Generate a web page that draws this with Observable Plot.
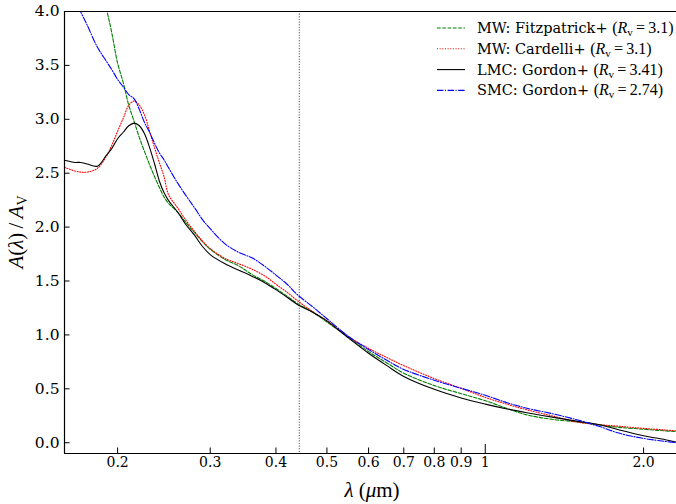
<!DOCTYPE html>
<html><head><meta charset="utf-8">
<script src="https://cdn.jsdelivr.net/npm/d3@7"></script>
<script src="https://cdn.jsdelivr.net/npm/@observablehq/plot@0.6"></script>
<style>body{margin:0;background:#fff}</style>
</head><body><div id="chart"></div>
<script>
// wavelength grid (µm)
const wavelength = [0.1585, 0.166, 0.17, 0.175, 0.183, 0.19, 0.195, 0.2, 0.205, 0.21, 0.215, 0.22, 0.225, 0.23, 0.235, 0.24, 0.245, 0.25, 0.26, 0.27, 0.28, 0.29, 0.30, 0.32, 0.34, 0.36, 0.38, 0.40, 0.42, 0.44, 0.47, 0.50, 0.55, 0.60, 0.65, 0.70, 0.80, 0.90, 1.0, 1.1, 1.2, 1.35, 1.5, 1.65, 1.8, 2.0, 2.2, 2.31];
// A(λ)/A_V for each curve
const mwFitzpatrick = [null, null, null, null, 4.42, 4.05, 3.80, 3.52, 3.34, 3.13, 2.98, 2.83, 2.70, 2.58, 2.47, 2.37, 2.28, 2.22, 2.14, 2.04, 1.95, 1.865, 1.795, 1.70, 1.64, 1.56, 1.50, 1.43, 1.36, 1.29, 1.21, 1.12, 0.975, 0.845, 0.74, 0.645, 0.53, 0.455, 0.39, 0.318, 0.258, 0.215, 0.192, 0.165, 0.142, 0.125, 0.11, 0.103];
const mwCardelli = [2.555, 2.52, 2.51, 2.51, 2.545, 2.65, 2.76, 2.89, 3.01, 3.13, 3.17, 3.13, 3.04, 2.89, 2.74, 2.60, 2.47, 2.30, 2.18, 2.06, 1.96, 1.87, 1.80, 1.71, 1.66, 1.61, 1.55, 1.47, 1.395, 1.315, 1.215, 1.13, 0.98, 0.875, 0.79, 0.715, 0.595, 0.505, 0.42, 0.357, 0.305, 0.245, 0.19, 0.168, 0.152, 0.133, 0.118, 0.11];
const lmcGordon = [2.62, 2.60, 2.60, 2.585, 2.565, 2.66, 2.73, 2.82, 2.88, 2.94, 2.965, 2.94, 2.865, 2.74, 2.59, 2.43, 2.32, 2.246, 2.14, 2.02, 1.925, 1.82, 1.745, 1.66, 1.60, 1.545, 1.487, 1.42, 1.35, 1.28, 1.21, 1.13, 0.97, 0.83, 0.715, 0.615, 0.495, 0.415, 0.358, 0.313, 0.278, 0.235, 0.198, 0.167, 0.118, 0.065, 0.028, 0.005];
const smcGordon = [4.30, 4.10, 4.0, 3.875, 3.67, 3.545, 3.46, 3.37, 3.30, 3.23, 3.19, 3.09, 2.97, 2.88, 2.78, 2.69, 2.625, 2.55, 2.41, 2.29, 2.18, 2.07, 1.985, 1.845, 1.765, 1.715, 1.64, 1.555, 1.47, 1.37, 1.26, 1.15, 0.985, 0.865, 0.765, 0.68, 0.58, 0.505, 0.44, 0.371, 0.32, 0.266, 0.21, 0.15, 0.087, 0.04, 0.012, 0.0];

const seriesNames = ["MW: Fitzpatrick+", "MW: Cardelli+", "LMC: Gordon+", "SMC: Gordon+"];
const seriesRv = ["3.1", "3.1", "3.41", "2.74"];
const seriesValues = [mwFitzpatrick, mwCardelli, lmcGordon, smcGordon];
const seriesColors = ["#008000", "#ff0000", "#000000", "#0000ff"];
const seriesDash = ["3.7,1.6", "1,1.65", null, "6.4,1.6,1,1.6"];

const referenceWavelength = [0.443];
const xTickValues = [0.2, 0.3, 0.4, 0.5, 0.6, 0.7, 0.8, 0.9, 1, 2];
const xTickLabels = ["0.2", "0.3", "0.4", "0.5", "0.6", "0.7", "0.8", "0.9", "1", "2.0"];
const xMajorTicks = [1];
const xMinorTicks = [0.2, 0.3, 0.4, 0.5, 0.6, 0.7, 0.8, 0.9, 2];
const yTickValues = [0, 0.5, 1, 1.5, 2, 2.5, 3, 3.5, 4];
const xDomain = [0.1585, 2.31];
const yDomain = [-0.1, 4.0];

const W = 676, H = 504, mL = 64, mR = 0, mT = 11, mB = 51;
const innerW = W - mL - mR, innerH = H - mT - mB;

const lines = seriesValues.map((vals, i) => Plot.line(
  wavelength.map((w, j) => ({w, a: vals[j]})).filter(d => d.a != null),
  {x: "w", y: "a", stroke: seriesColors[i], strokeWidth: 1.1, strokeDasharray: seriesDash[i], curve: "catmull-rom", clip: true}
));

const svg = Plot.plot({
  width: W, height: H,
  marginLeft: mL, marginRight: mR, marginTop: mT, marginBottom: mB,
  style: {fontFamily: "DejaVu Serif", fontSize: "14px", color: "#000", background: "#fff"},
  x: {type: "log", domain: xDomain},
  y: {domain: yDomain},
  marks: [
    Plot.ruleX(referenceWavelength, {x: d => d, stroke: "#000", strokeWidth: 0.8, strokeDasharray: "1,1.65"}),
    ...lines,
    Plot.tickX(xMinorTicks, {x: d => d, stroke: "#000", strokeWidth: 1, insetTop: innerH - 5.5}),
    Plot.tickX(xMajorTicks, {x: d => d, stroke: "#000", strokeWidth: 1, insetTop: innerH - 9}),
    Plot.tickY(yTickValues, {y: d => d, stroke: "#000", strokeWidth: 1, insetRight: innerW - 5.5}),
    Plot.axisX({ticks: xTickValues, tickFormat: d => xTickLabels[xTickValues.indexOf(d)], tickSize: 0, tickPadding: 4, label: null, fontSize: 14}),
    Plot.axisY({ticks: yTickValues, tickFormat: d => d.toFixed(1), tickSize: 0, tickPadding: 5, label: null, fontSize: 15.5}),
    Plot.ruleX([xDomain[0]], {x: d => d, stroke: "#000", strokeWidth: 1.2}),
    Plot.ruleY([yDomain[0], yDomain[1]], {y: d => d, stroke: "#000", strokeWidth: 1.2})
  ]
});
document.getElementById("chart").appendChild(svg);

const s = d3.select(svg);
const mathFont = "Liberation Serif";
// legend
const lg = s.append("g");
seriesNames.forEach((name, i) => {
  const y = 28 + i * 20.8;
  lg.append("line").attr("x1", 437).attr("x2", 465).attr("y1", y).attr("y2", y)
    .attr("stroke", seriesColors[i]).attr("stroke-width", 1.1)
    .attr("stroke-dasharray", seriesDash[i]);
  const t = lg.append("text").attr("x", 477).attr("y", y).attr("dy", "0.35em")
    .attr("text-anchor", "start")
    .attr("font-family", "DejaVu Serif").attr("font-size", 14.5).attr("fill", "#000");
  t.append("tspan").text(name + " ");
  t.append("tspan").attr("font-family", mathFont).attr("font-size", 16).text("(");
  t.append("tspan").attr("font-family", mathFont).attr("font-style", "italic").attr("font-size", 16).text("R");
  t.append("tspan").attr("font-family", mathFont).attr("font-size", 11).attr("dy", 3).text("v");
  t.append("tspan").attr("font-family", mathFont).attr("font-size", 16).attr("dy", -3).text("\u2009=\u2009" + seriesRv[i] + ")");
});
// x label
const xl = s.append("text").attr("x", 372).attr("y", 497).attr("text-anchor", "middle")
  .attr("font-family", mathFont).attr("font-size", 21).attr("fill", "#000");
xl.append("tspan").attr("font-style", "italic").text("λ");
xl.append("tspan").text(" (");
xl.append("tspan").attr("font-style", "italic").text("μ");
xl.append("tspan").text("m)");
// y label
const yl = s.append("text").attr("transform", "translate(23,232) rotate(-90)").attr("text-anchor", "middle")
  .attr("font-family", mathFont).attr("font-size", 21).attr("fill", "#000");
yl.append("tspan").attr("font-style", "italic").text("A");
yl.append("tspan").text("(");
yl.append("tspan").attr("font-style", "italic").text("λ");
yl.append("tspan").text(")\u2009/\u2009");
yl.append("tspan").attr("font-style", "italic").text("A");
yl.append("tspan").attr("font-size", 14).attr("dy", 4).text("V");
</script>
</body></html>
